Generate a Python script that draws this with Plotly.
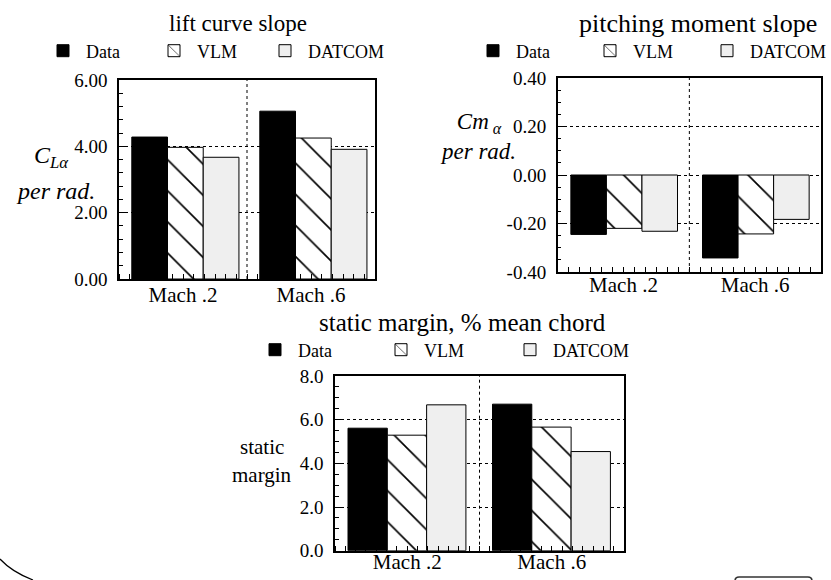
import plotly.graph_objects as go

W, H = 831, 580
SERIF = "Liberation Serif"

# ---- data -------------------------------------------------------------
categories = ["Mach .2", "Mach .6"]
series_names = ["Data", "VLM", "DATCOM"]

lift_data = [4.28, 5.06]
lift_vlm = [3.97, 4.25]
lift_datcom = [3.67, 3.91]

pitch_data = [-0.245, -0.342]
pitch_vlm = [-0.220, -0.243]
pitch_datcom = [-0.232, -0.183]

margin_data = [5.61, 6.71]
margin_vlm = [5.29, 5.66]
margin_datcom = [6.68, 4.54]

lift_tickvals = [0, 2, 4, 6]
lift_ticktext = ["0.00", "2.00", "4.00", "6.00"]
pitch_tickvals = [-0.4, -0.2, 0, 0.2, 0.4]
pitch_ticktext = ["-0.40", "-0.20", "0.00", "0.20", "0.40"]
margin_tickvals = [0, 2, 4, 6, 8]
margin_ticktext = ["0.0", "2.0", "4.0", "6.0", "8.0"]


def px(x):
    return x / W


def py(y):
    return 1 - y / H


# ---- bar styles -------------------------------------------------------
bar_style = {
    "Data": dict(color="black"),
    "VLM": dict(color="white",
                pattern=dict(shape="\\", fgcolor="black", fgopacity=1,
                             size=22, solidity=0.075, fillmode="overlay")),
    "DATCOM": dict(color="#efefef"),
}

panels = [
    dict(sfx="", values=[lift_data, lift_vlm, lift_datcom],
         xdom=(119, 375), ydom=(80, 279), yrange=[0, 6],
         tickvals=lift_tickvals, ticktext=lift_ticktext, yminor=0.4,
         xminor=1 / 12, start=0.10, width=0.279, legend="legend",
         entry=[60, 60, 110], xstandoff=-4),
    dict(sfx="2", values=[pitch_data, pitch_vlm, pitch_datcom],
         xdom=(557.7, 821), ydom=(78, 272), yrange=[-0.4, 0.4],
         tickvals=pitch_tickvals, ticktext=pitch_ticktext, yminor=0.05,
         xminor=1 / 12, start=0.10, width=0.27, legend="legend2",
         entry=[66, 66, 90], xstandoff=-7),
    dict(sfx="3", values=[margin_data, margin_vlm, margin_datcom],
         xdom=(335, 624), ydom=(376, 550.7), yrange=[0, 8],
         tickvals=margin_tickvals, ticktext=margin_ticktext, yminor=0.5,
         xminor=1 / 14, start=0.09, width=0.272, legend="legend3",
         entry=[75, 78, 100], xstandoff=-9),
]

fig = go.Figure()
layout = {}
shapes = []

centers = [i + 0.5 for i in range(len(categories))]

for p in panels:
    xa, ya = "x" + p["sfx"], "y" + p["sfx"]
    for i, (name, vals) in enumerate(zip(series_names, p["values"])):
        fig.add_trace(go.Bar(
            x=centers, y=vals, name=name,
            xaxis=xa, yaxis=ya,
            width=p["width"],
            offset=-0.5 + p["start"] + i * p["width"],
            marker=dict(**bar_style[name], line=dict(color="black", width=1)),
            legend=p["legend"], showlegend=True,
            legendwidth=p["entry"][i],
        ))

    layout["xaxis" + p["sfx"]] = dict(
        domain=[px(p["xdom"][0]), px(p["xdom"][1])],
        anchor=ya, range=[0, 2], automargin=False,
        tickmode="array", tickvals=centers, ticktext=categories,
        ticks="", ticklabelstandoff=p["xstandoff"],
        showgrid=False, zeroline=False,
        showline=True, mirror=True, linecolor="black", linewidth=1.5,
        tickfont=dict(family=SERIF, size=21, color="black"),
        minor=dict(ticks="inside", ticklen=5, tickcolor="black",
                   tickmode="linear", tick0=0, dtick=p["xminor"],
                   showgrid=False),
        fixedrange=True,
    )
    layout["yaxis" + p["sfx"]] = dict(
        domain=[py(p["ydom"][1]), py(p["ydom"][0])],
        anchor=xa, range=p["yrange"], automargin=False,
        tickmode="array", tickvals=p["tickvals"], ticktext=p["ticktext"],
        ticks="inside", ticklen=8, tickcolor="black",
        ticklabelstandoff=6,
        showgrid=True, gridcolor="black", gridwidth=1, griddash="3px,3px",
        zeroline=False,
        showline=True, mirror=True, linecolor="black", linewidth=1.5,
        tickfont=dict(family=SERIF, size=19, color="black"),
        minor=dict(ticks="inside", ticklen=4, tickcolor="black",
                   tickmode="linear", tick0=0, dtick=p["yminor"],
                   showgrid=False),
        fixedrange=True,
    )
    # dotted divider between the two Mach groups
    shapes.append(dict(type="line", xref=xa, yref=ya + " domain",
                       x0=1, x1=1, y0=0, y1=1, layer="below",
                       line=dict(color="black", width=1, dash="3px,3px")))


def legend_at(x0, yc):
    return dict(orientation="h", x=px(x0), xanchor="left",
                y=py(yc), yanchor="middle", itemwidth=36,
                font=dict(family=SERIF, size=18, color="black"),
                bgcolor="rgba(0,0,0,0)", borderwidth=0,
                traceorder="normal", itemclick=False, itemdoubleclick=False)


layout["legend"] = legend_at(40, 51)
layout["legend2"] = legend_at(470, 51)
layout["legend3"] = legend_at(252, 350)


def note(text, x, y, size, xanchor="center", yanchor="middle", align="center"):
    return dict(text=text, x=px(x), y=py(y), xref="paper", yref="paper",
                xanchor=xanchor, yanchor=yanchor, showarrow=False,
                font=dict(family=SERIF, size=size, color="black"), align=align)


annotations = [
    note("lift curve slope", 238, 24, 23),
    note("pitching moment slope", 698, 24, 26),
    note("static margin, % mean chord", 462, 323, 25),
    note("<i>C</i><sub><i>Lα</i></sub>", 32, 157, 24, xanchor="left"),
    note("<i>per rad.</i>", 55, 191, 24),
    note("<i>Cm</i><sub> <i>α</i></sub><br><i>per rad.</i>", 478, 137, 23),
    note("static", 262, 461, 21, yanchor="bottom"),
    note("margin", 262, 461, 21, yanchor="top"),
]

# page edge marks along the bottom of the sheet
shapes.append(dict(type="path", xref="paper", yref="paper",
                   path="M %f,%f Q %f,%f %f,%f" % (px(0), py(559), px(12), py(572), px(33), py(580)),
                   line=dict(color="black", width=1.2)))
shapes.append(dict(type="path", xref="paper", yref="paper",
                   path="M %f,%f Q %f,%f %f,%f L %f,%f Q %f,%f %f,%f" % (
                       px(735), py(581), px(735), py(577), px(739), py(577),
                       px(808), py(577), px(812), py(577), px(812), py(581)),
                   line=dict(color="#333333", width=1.5)))

fig.update_layout(
    template="none",
    width=W, height=H,
    margin=dict(l=0, r=0, t=0, b=0, autoexpand=False),
    paper_bgcolor="white", plot_bgcolor="white",
    barmode="overlay",
    shapes=shapes, annotations=annotations,
    **layout,
)

fig.write_html("out.html")
